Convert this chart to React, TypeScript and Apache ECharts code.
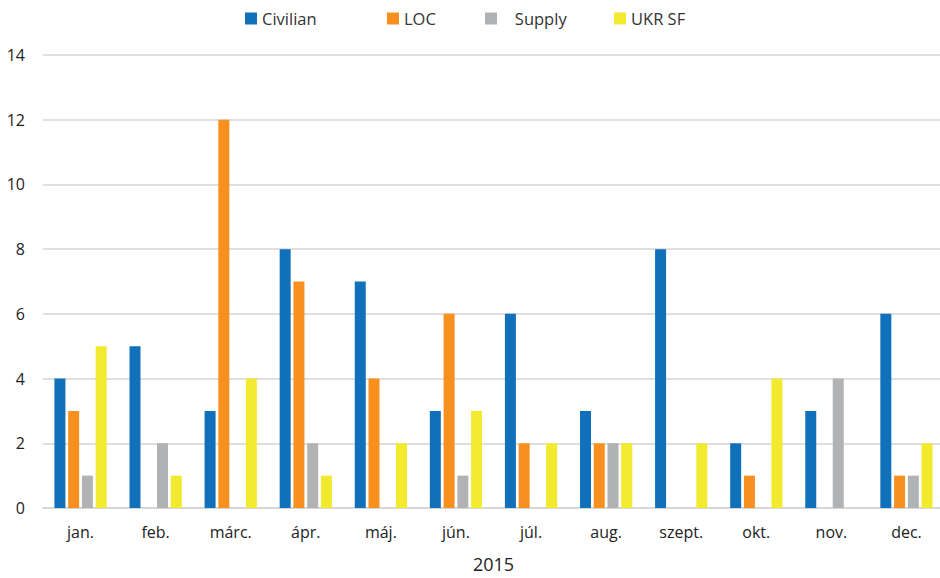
import React, { useEffect, useRef } from "react";
import * as echarts from "echarts";

const months = ["jan.", "feb.", "márc.", "ápr.", "máj.", "jún.", "júl.", "aug.", "szept.", "okt.", "nov.", "dec."];
const civilian = [4, 5, 3, 8, 7, 3, 6, 3, 8, 2, 3, 6];
const loc = [3, 0, 12, 7, 4, 6, 2, 2, 0, 1, 0, 1];
const supply = [1, 2, 0, 2, 0, 1, 0, 2, 0, 0, 4, 1];
const ukrSf = [5, 1, 4, 1, 2, 3, 2, 2, 2, 4, 0, 2];
const yTicks = { min: 0, max: 14, interval: 2 };
const xName = "2015";

const FONT = "'Open Sans', 'DejaVu Sans', sans-serif";

export default function App() {
  const ref = useRef<HTMLDivElement>(null);
  useEffect(() => {
    if (!ref.current) return;
    const chart = echarts.init(ref.current, undefined, { renderer: "svg" });
    const mkSeries = (name: string, data: number[], color: string) => ({
      name,
      type: "bar",
      data,
      barWidth: 11,
      barGap: "25%",
      itemStyle: { color },
    });
    const legendBase = {
      top: 10,
      padding: 0,
      itemWidth: 12,
      itemHeight: 12,
      itemGap: 0,
      icon: "rect",
      textStyle: { fontFamily: FONT, fontSize: 16.5, color: "#333" },
    };
    chart.setOption({
      animation: false,
      textStyle: { fontFamily: FONT },
      legend: [
        { ...legendBase, left: 245, data: ["Civilian"] },
        { ...legendBase, left: 387, data: ["LOC"] },
        { ...legendBase, left: 485, data: ["Supply"], formatter: "   {name}" },
        { ...legendBase, left: 614, data: ["UKR SF"] },
      ],
      grid: { left: 43, top: 55, width: 901, bottom: 70, containLabel: false, outerBoundsMode: "none" },
      xAxis: {
        type: "category",
        data: months,
        name: xName,
        nameLocation: "middle",
        nameGap: 47,
        nameTextStyle: { fontFamily: FONT, fontSize: 18, lineHeight: 18, color: "#222" },
        axisLine: { show: true, lineStyle: { color: "#d4d4d4", width: 1.5 } },
        axisTick: { show: false },
        axisLabel: { fontFamily: FONT, fontSize: 16, color: "#222", margin: 16 },
      },
      yAxis: {
        type: "value",
        min: yTicks.min,
        max: yTicks.max,
        interval: yTicks.interval,
        axisLine: { show: false },
        axisTick: { show: false },
        axisLabel: { fontFamily: FONT, fontSize: 16, color: "#222", margin: 18 },
        splitLine: { lineStyle: { color: "#d4d4d4", width: 1.5 } },
      },
      series: [
        mkSeries("Civilian", civilian, "#1071BA"),
        mkSeries("LOC", loc, "#F7901E"),
        mkSeries("Supply", supply, "#B1B2B4"),
        mkSeries("UKR SF", ukrSf, "#F2EA2E"),
      ],
    });
    return () => chart.dispose();
  }, []);
  return (
    <div
      ref={ref}
      style={{ position: "fixed", left: 0, top: 0, width: 940, height: 578, background: "#fff" }}
    />
  );
}
